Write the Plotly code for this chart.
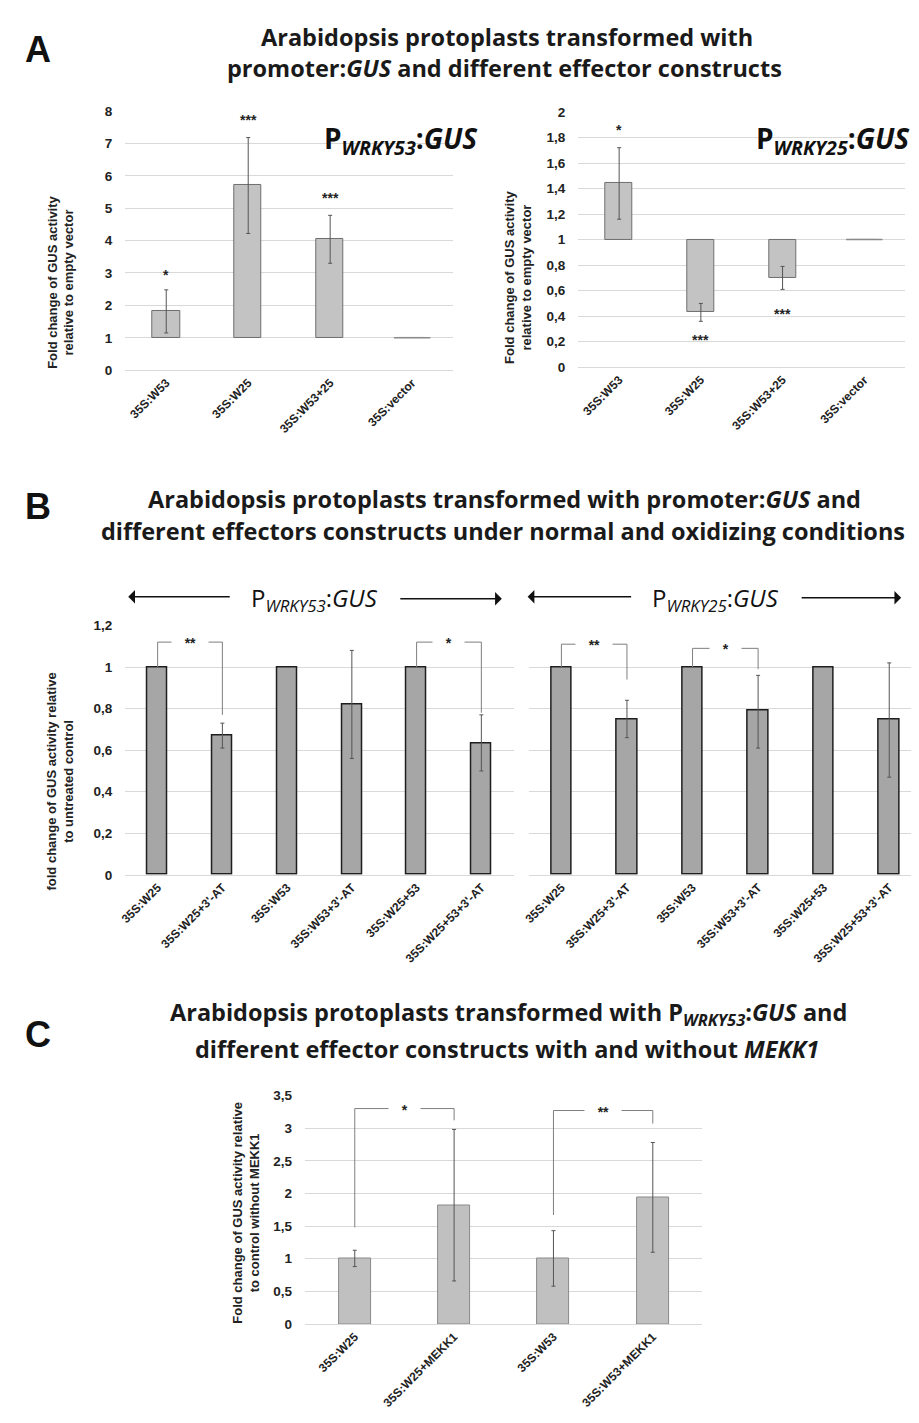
import plotly.graph_objects as go

W, H = 919, 1423

# ---------------- Panel A data ----------------
a_cats = ["35S:W53", "35S:W25", "35S:W53+25", "35S:vector"]
a53_vals = [1.82, 5.72, 4.05, 1.00]
a53_err_lo = [1.15, 4.22, 3.30, None]
a53_err_hi = [2.48, 7.18, 4.78, None]
a53_sig = ["*", "***", "***", ""]
a53_sig_y = [2.95, 7.72, 5.30, None]

a25_vals = [1.44, 0.43, 0.70, 1.00]
a25_err_lo = [1.16, 0.36, 0.61, None]
a25_err_hi = [1.72, 0.50, 0.79, None]
a25_sig = ["*", "***", "***", ""]
a25_sig_y = [1.86, 0.21, 0.42, None]

# ---------------- Panel B data ----------------
b_cats = ["35S:W25", "35S:W25+3'-AT", "35S:W53", "35S:W53+3'-AT", "35S:W25+53", "35S:W25+53+3'-AT"]
b53_vals = [1.00, 0.67, 1.00, 0.82, 1.00, 0.63]
b53_err_lo = [None, 0.61, None, 0.56, None, 0.50]
b53_err_hi = [None, 0.73, None, 1.08, None, 0.77]
b25_vals = [1.00, 0.75, 1.00, 0.79, 1.00, 0.75]
b25_err_lo = [None, 0.66, None, 0.61, None, 0.47]
b25_err_hi = [None, 0.84, None, 0.96, None, 1.02]
# brackets: (left index, right index, start y, top y, end y, label)
b53_brackets = [(0, 1, 1.00, 1.12, 0.77, "**"), (4, 5, 1.00, 1.12, 0.78, "*")]
b25_brackets = [(0, 1, 1.00, 1.11, 0.94, "**"), (2, 3, 1.00, 1.09, 0.99, "*")]

# ---------------- Panel C data ----------------
c_cats = ["35S:W25", "35S:W25+MEKK1", "35S:W53", "35S:W53+MEKK1"]
c_vals = [1.00, 1.82, 1.00, 1.94]
c_err_lo = [0.88, 0.66, 0.58, 1.10]
c_err_hi = [1.13, 2.98, 1.43, 2.78]
c_brackets = [(0, 1, 1.48, 3.30, 3.12, "*"), (2, 3, 1.67, 3.27, 3.07, "**")]

# ---------------- helpers ----------------
def xd(p0, p1):
    return [p0 / W, p1 / W]

def yd(top, bottom):
    return [1 - bottom / H, 1 - top / H]

def px(x):
    return x / W

def py(y):
    return 1 - y / H

GRID = "#d9d9d9"
TICKFONT = dict(family="Liberation Sans, Arial", size=13.5, color="#222", weight="bold")
XTICKFONT = dict(family="Liberation Sans, Arial", size=12, color="#222", weight="bold")
TITLEFONT = dict(family="Open Sans", size=23.5, color="#1a1a1a", weight=700)
STARFONT = dict(family="Liberation Sans, Arial", size=14, color="#222", weight="bold")

fig = go.Figure()


def add_errors(cats, vals, lo, hi, xa, ya, color, width=2):
    xs, ys, ep, em = [], [], [], []
    for c, v, l, h in zip(cats, vals, lo, hi):
        if l is None:
            continue
        xs.append(c); ys.append(v); ep.append(h - v); em.append(v - l)
    fig.add_trace(go.Scatter(
        x=xs, y=ys, mode="markers", marker=dict(size=1, opacity=0),
        error_y=dict(type="data", array=ep, arrayminus=em, symmetric=False,
                     color=color, thickness=1, width=width),
        xaxis=xa, yaxis=ya, showlegend=False, hoverinfo="skip"))


def add_brackets(cats, brackets, xa, ya):
    for (i0, i1, s, t, e, lab) in brackets:
        fig.add_trace(go.Scatter(
            x=[cats[i0], cats[i0], cats[i1], cats[i1]], y=[s, t, t, e], mode="lines",
            line=dict(color="#7f7f7f", width=1),
            xaxis=xa, yaxis=ya, showlegend=False, hoverinfo="skip"))
        fig.add_annotation(x=(i0 + i1) / 2, y=t, xref=xa, yref=ya,
                           text="   " + lab + "   ", showarrow=False,
                           bgcolor="white", yshift=-1, font=STARFONT)


# ---- A left (bars floating from the baseline 1) ----
fig.add_trace(go.Bar(
    x=a_cats, y=[v - 1 for v in a53_vals], base=1, width=0.33,
    marker=dict(color="#c3c3c3", line=dict(color="#6e6e6e", width=1)),
    xaxis="x", yaxis="y", showlegend=False))
add_errors(a_cats, a53_vals, a53_err_lo, a53_err_hi, "x", "y", "#555")
fig.add_trace(go.Scatter(
    x=[a_cats[3]], y=[a53_vals[3]], mode="markers",
    marker=dict(symbol="line-ew-open", size=26, color="#8a8a8a",
                line=dict(color="#8a8a8a", width=1.5)),
    xaxis="x", yaxis="y", showlegend=False, hoverinfo="skip"))
for c, s, yy in zip(a_cats, a53_sig, a53_sig_y):
    if s:
        fig.add_annotation(x=c, y=yy, xref="x", yref="y", text=s, showarrow=False, font=STARFONT)

# ---- A right ----
fig.add_trace(go.Bar(
    x=a_cats, y=[v - 1 for v in a25_vals], base=1, width=0.33,
    marker=dict(color="#c3c3c3", line=dict(color="#6e6e6e", width=1)),
    xaxis="x2", yaxis="y2", showlegend=False))
add_errors(a_cats, a25_vals, a25_err_lo, a25_err_hi, "x2", "y2", "#555")
fig.add_trace(go.Scatter(
    x=[a_cats[3]], y=[a25_vals[3]], mode="markers",
    marker=dict(symbol="line-ew-open", size=26, color="#8a8a8a",
                line=dict(color="#8a8a8a", width=1.5)),
    xaxis="x2", yaxis="y2", showlegend=False, hoverinfo="skip"))
for c, s, yy in zip(a_cats, a25_sig, a25_sig_y):
    if s:
        fig.add_annotation(x=c, y=yy, xref="x2", yref="y2", text=s, showarrow=False, font=STARFONT)

# ---- B left ----
fig.add_trace(go.Bar(
    x=b_cats, y=b53_vals, width=0.31,
    marker=dict(color="#a6a6a6", line=dict(color="#1e1e1e", width=1.5)),
    xaxis="x3", yaxis="y3", showlegend=False))
add_errors(b_cats, b53_vals, b53_err_lo, b53_err_hi, "x3", "y3", "#555")
add_brackets(b_cats, b53_brackets, "x3", "y3")

# ---- B right ----
fig.add_trace(go.Bar(
    x=b_cats, y=b25_vals, width=0.31,
    marker=dict(color="#a6a6a6", line=dict(color="#1e1e1e", width=1.5)),
    xaxis="x4", yaxis="y4", showlegend=False))
add_errors(b_cats, b25_vals, b25_err_lo, b25_err_hi, "x4", "y4", "#555")
add_brackets(b_cats, b25_brackets, "x4", "y4")

# ---- C ----
fig.add_trace(go.Bar(
    x=c_cats, y=c_vals, width=0.32,
    marker=dict(color="#c0c0c0", line=dict(color="#8a8a8a", width=1)),
    xaxis="x5", yaxis="y5", showlegend=False))
add_errors(c_cats, c_vals, c_err_lo, c_err_hi, "x5", "y5", "#555")
add_brackets(c_cats, c_brackets, "x5", "y5")


def xax(domain, anchor, cats, angle=-45):
    return dict(domain=domain, anchor=anchor, type="category", tickangle=angle,
                categoryorder="array", categoryarray=cats,
                tickfont=XTICKFONT, showgrid=False, showline=True, linecolor=GRID,
                ticks="", fixedrange=True)


def yax(domain, anchor, rng, dtick, labels=True):
    return dict(domain=domain, anchor=anchor, range=rng, dtick=dtick,
                showgrid=True, gridcolor=GRID, gridwidth=1, zeroline=False,
                showline=False, tickfont=TICKFONT, showticklabels=labels,
                ticklabelstandoff=12, fixedrange=True)


fig.update_layout(
    width=W, height=H, margin=dict(l=0, r=0, t=0, b=0),
    paper_bgcolor="white", plot_bgcolor="white", separators=", ",
    bargap=0, showlegend=False,
    xaxis=xax(xd(112, 442), "y", a_cats),
    yaxis=yax(yd(97, 359), "x", [0, 8], 1),
    xaxis2=xax(xd(568, 897), "y2", a_cats),
    yaxis2=yax(yd(98, 356), "x2", [0, 2], 0.2),
    xaxis3=xax(xd(112, 503), "y3", b_cats),
    yaxis3=yax(yd(617, 869), "x3", [0, 1.2], 0.2),
    xaxis4=xax(xd(518, 914), "y4", b_cats),
    yaxis4=yax(yd(617, 869), "x4", [0, 1.2], 0.2, labels=False),
    xaxis5=xax(xd(293, 693), "y5", c_cats),
    yaxis5=yax(yd(1092, 1323), "x5", [0, 3.5], 0.5),
)

# ---------------- text annotations ----------------
def note(text, x, y, font, angle=0, xanchor="center"):
    fig.add_annotation(text=text, x=px(x), y=py(y), xref="paper", yref="paper",
                       showarrow=False, font=font, textangle=angle,
                       xanchor=xanchor, yanchor="middle")

LETTER = dict(family="Liberation Sans, Arial", size=36, color="#111", weight="bold")
note("A", 24, 35, LETTER)
note("B", 24, 497, LETTER)
note("C", 24, 1030, LETTER)

note("Arabidopsis protoplasts transformed with", 496, 22, TITLEFONT)
note("promoter:<i>GUS</i> and different effector constructs", 494, 54, TITLEFONT)
note("Arabidopsis protoplasts transformed with promoter:<i>GUS</i> and", 494, 489, TITLEFONT)
note("different effectors constructs under normal and oxidizing conditions", 492, 522, TITLEFONT)
note("Arabidopsis protoplasts transformed with P<sub><i>WRKY53</i></sub>:<i>GUS</i> and", 498, 1009, TITLEFONT)
note("different effector constructs with and without <i>MEKK1</i>", 496, 1045, TITLEFONT)

PFONT = dict(family="Open Sans", size=28, color="#111", weight=700)
note("P<sub><i>WRKY53</i></sub>:<i>GUS</i>", 390, 126, PFONT)
note("P<sub><i>WRKY25</i></sub>:<i>GUS</i>", 824, 126, PFONT)

YTFONT = dict(family="Liberation Sans, Arial", size=13, color="#222", weight="bold")
note("Fold change of GUS activity<br>relative to empty vector", 47, 270, YTFONT, angle=-90)
note("Fold change of GUS activity<br>relative to empty vector", 508, 265, YTFONT, angle=-90)
note("fold change of GUS activity relative<br>to untreated control", 46, 775, YTFONT, angle=-90)
note("Fold change of GUS activity relative<br>to control without MEKK1", 234, 1210, YTFONT, angle=-90)

# B group labels with arrows
AFONT = dict(family="Open Sans", size=24, color="#111")
note("P<sub><i>WRKY53</i></sub>:<i>GUS</i>", 302, 590, AFONT)
note("P<sub><i>WRKY25</i></sub>:<i>GUS</i>", 706, 590, AFONT)

def arrow(head_x, tail_x, y):
    fig.add_annotation(x=px(head_x), y=py(y), xref="paper", yref="paper",
                       ax=tail_x - head_x, ay=0, axref="pixel", ayref="pixel",
                       text="", showarrow=True, arrowhead=1, arrowsize=1.6,
                       arrowwidth=1.4, arrowcolor="#111")

arrow(115, 218, 588)
arrow(491, 388, 590)
arrow(517, 622, 588)
arrow(893, 792, 589)

fig.write_html("out.html")
